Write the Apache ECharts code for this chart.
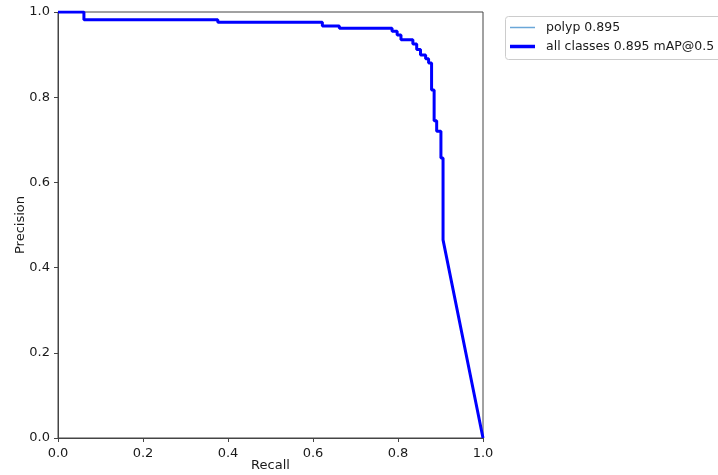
<!DOCTYPE html>
<html>
<head>
<meta charset="utf-8">
<script src="https://cdn.jsdelivr.net/npm/echarts@6/dist/echarts.min.js"></script>
<style>
  html, body { margin: 0; padding: 0; background: #fff; }
  #chart { width: 718px; height: 475px; }
</style>
</head>
<body>
<div id="chart"></div>
<script>
// step corners of the PR curve
const recall = [0, 0.061, 0.061, 0.376, 0.376, 0.622, 0.622, 0.662, 0.662, 0.786, 0.786,
  0.798, 0.798, 0.807, 0.807, 0.835, 0.835, 0.844, 0.844, 0.853, 0.853, 0.865, 0.865,
  0.872, 0.872, 0.879, 0.879, 0.885, 0.885, 0.891, 0.891, 0.901, 0.901, 0.906, 0.906, 1.0]
const precision = [1.0, 1.0, 0.982, 0.982, 0.976, 0.976, 0.967, 0.967, 0.962, 0.962, 0.955,
  0.955, 0.946, 0.946, 0.935, 0.935, 0.925, 0.925, 0.912, 0.912, 0.899, 0.899, 0.890,
  0.890, 0.880, 0.880, 0.817, 0.817, 0.745, 0.745, 0.720, 0.720, 0.657, 0.657, 0.465, 0.0]
const seriesNames = ['polyp 0.895', 'all classes 0.895 mAP@0.5']
const ticks = [0, 0.2, 0.4, 0.6, 0.8, 1.0]

const points = recall.map((r, i) => [r, precision[i]])
const font = 'DejaVu Sans'
const chart = echarts.init(document.getElementById('chart'))

const axisCommon = {
  type: 'value',
  min: ticks[0],
  max: ticks[ticks.length - 1],
  interval: 0.2,
  nameLocation: 'middle',
  nameMoveOverlap: false,
  nameTextStyle: { fontFamily: font, fontSize: 13, color: '#1a1a1a' },
  axisLine: { show: true, lineStyle: { color: '#444', width: 1 } },
  axisTick: { show: true, length: 4, lineStyle: { color: '#444' } },
  axisLabel: { fontFamily: font, fontSize: 13, color: '#1a1a1a', formatter: v => v.toFixed(1) },
  splitLine: { show: false }
}

const legendCommon = {
  orient: 'vertical',
  left: 510,
  padding: 0,
  itemWidth: 25,
  icon: 'rect',
  textStyle: { fontFamily: font, fontSize: 12.5, color: '#1a1a1a', padding: [0, 0, 0, 6] }
}

chart.setOption({
  animation: false,
  grid: {
    left: 58, top: 12, width: 425, height: 426,
    outerBoundsMode: 'none',
    show: true, borderColor: '#444', borderWidth: 1, backgroundColor: 'transparent'
  },
  // legend frame
  graphic: [{
    type: 'rect',
    left: 505, top: 16,
    shape: { width: 230, height: 43, r: 3 },
    style: { fill: '#fff', stroke: '#ccc', lineWidth: 1 },
    z: 0
  }],
  legend: [
    Object.assign({}, legendCommon, { top: 21, itemHeight: 1.5, data: [seriesNames[0]] }),
    Object.assign({}, legendCommon, { top: 40, itemHeight: 3.5, data: [seriesNames[1]] })
  ],
  xAxis: Object.assign({}, axisCommon, {
    name: 'Recall', nameGap: 21,
    axisLabel: Object.assign({}, axisCommon.axisLabel, { margin: 9 })
  }),
  yAxis: Object.assign({}, axisCommon, {
    name: 'Precision', nameGap: 31,
    axisLabel: Object.assign({}, axisCommon.axisLabel, { margin: 8 })
  }),
  series: [
    {
      name: seriesNames[0],
      type: 'line',
      data: points,
      symbol: 'none',
      lineStyle: { color: '#6aa7d8', width: 1 },
      itemStyle: { color: '#6aa7d8' }
    },
    {
      name: seriesNames[1],
      type: 'line',
      data: points,
      symbol: 'none',
      lineStyle: { color: '#0000ff', width: 3 },
      itemStyle: { color: '#0000ff' }
    }
  ]
})
</script>
</body>
</html>
